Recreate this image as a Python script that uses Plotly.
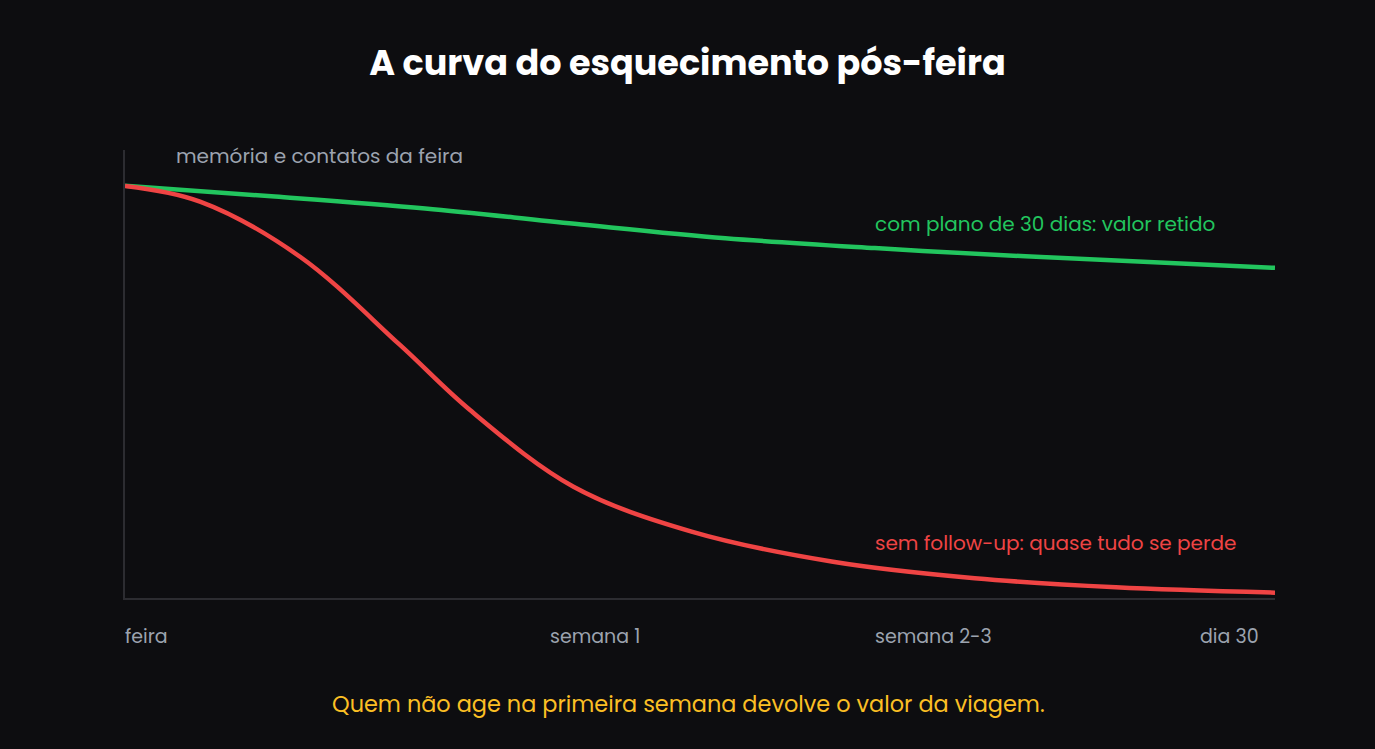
import plotly.graph_objects as go

# position along the 30-day window (0 = feira, 100 = dia 30)
red_x = [0, 6.52, 15.22, 23.91, 30.0, 39.0, 49.27, 61.57, 73.89, 86.17, 100]
red_y = [100, 96.2, 82.8, 61.4, 45.6, 27.0, 16.1, 8.8, 4.8, 2.6, 1.3]

green_x = [0, 13.04, 26.1, 39.1, 52.2, 65.2, 78.3, 100]
green_y = [100, 97.4, 94.5, 90.8, 87.3, 84.9, 82.9, 80.1]

tick_pos = [0, 36.96, 65.22, 93.48]
tick_labels = ["feira", "semana 1", "semana 2-3", "dia 30"]

title = "A curva do esquecimento pós-feira"
y_label = "memória e contatos da feira"
green_label = "com plano de 30 dias: valor retido"
red_label = "sem follow-up: quase tudo se perde"
footer = "Quem não age na primeira semana devolve o valor da viagem."

FONT = "Poppins, Inter, sans-serif"
BG = "#0d0d10"
GREEN = "#22c55e"
RED = "#ef4444"
GRAY = "#9ca3af"
AXIS = "#2c2c31"

fig = go.Figure()
fig.add_trace(go.Scatter(x=green_x, y=green_y, mode="lines",
                         line=dict(color=GREEN, width=4.5, shape="spline", smoothing=1),
                         cliponaxis=False, hoverinfo="skip"))
fig.add_trace(go.Scatter(x=red_x, y=red_y, mode="lines",
                         line=dict(color=RED, width=4.5, shape="spline", smoothing=1),
                         cliponaxis=False, hoverinfo="skip"))

ann = []
for p, t in zip(tick_pos, tick_labels):
    ann.append(dict(x=p, y=-(636 - 598) / 448, xref="x", yref="paper", text=t, showarrow=False,
                    xanchor="left", yanchor="middle", xshift=-2,
                    font=dict(family=FONT, size=19, color=GRAY)))
ann.append(dict(x=4.43, y=(598 - 156) / 448, xref="x", yref="paper", text=y_label, showarrow=False,
                xanchor="left", yanchor="middle", xshift=-2,
                font=dict(family=FONT, size=20, color=GRAY)))
ann.append(dict(x=65.22, y=90.8, xref="x", yref="y", text=green_label, showarrow=False,
                xanchor="left", yanchor="middle", xshift=-2,
                font=dict(family=FONT, size=20, color=GREEN)))
ann.append(dict(x=65.22, y=13.35, xref="x", yref="y", text=red_label, showarrow=False,
                xanchor="left", yanchor="middle", xshift=-2,
                font=dict(family=FONT, size=20, color=RED)))
ann.append(dict(x=(688 - 125) / 1150, y=-(704 - 598) / 448, xref="paper", yref="paper", text=footer,
                showarrow=False, yanchor="middle", xanchor="center",
                font=dict(family=FONT, size=22.4, color="#fbbf24")))

fig.update_layout(
    width=1375, height=749,
    paper_bgcolor=BG, plot_bgcolor=BG,
    margin=dict(l=125, r=100, t=150, b=151),
    showlegend=False,
    title=dict(text="<b>" + title + "</b>", x=0.5, xanchor="center", y=1 - 63 / 749, yanchor="middle",
               font=dict(family=FONT, size=35, color="#ffffff")),
    xaxis=dict(range=[0, 100], showgrid=False, zeroline=False, showticklabels=False,
               showline=True, linecolor=AXIS, linewidth=2, fixedrange=True),
    yaxis=dict(range=[0, 108.7], showgrid=False, zeroline=False, showticklabels=False,
               showline=True, linecolor=AXIS, linewidth=2, fixedrange=True),
    annotations=ann,
)

fig.write_html(
    "out.html",
    config={"displayModeBar": False},
    post_script="document.body.style.margin='0';document.body.style.background='#0d0d10';",
)
